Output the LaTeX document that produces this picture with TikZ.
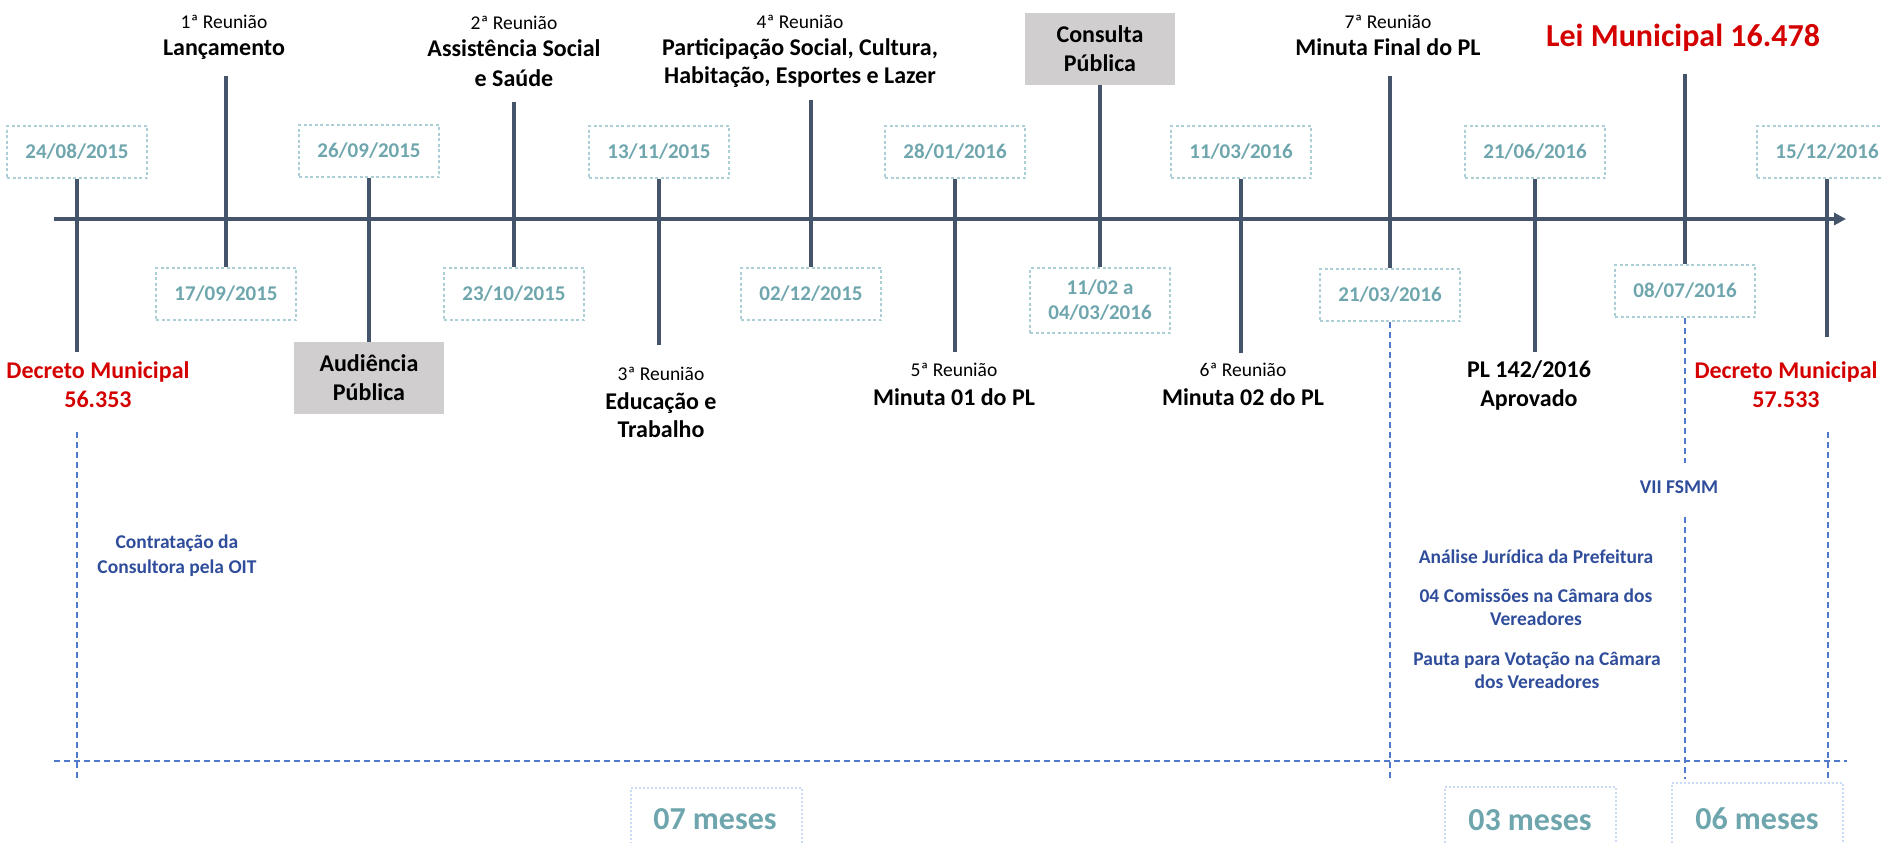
\documentclass[tikz,border=0pt]{standalone}
\usepackage{fontspec}
\setmainfont{Carlito}
\usetikzlibrary{arrows.meta}
\definecolor{axisc}{RGB}{68,84,106}
\definecolor{datec}{RGB}{111,166,174}
\definecolor{boxc}{RGB}{172,206,213}
\definecolor{redc}{RGB}{212,0,0}
\definecolor{bluet}{RGB}{47,77,155}
\definecolor{guidec}{RGB}{80,120,205}
\definecolor{grayc}{RGB}{208,206,206}
\definecolor{monc}{RGB}{200,218,245}
\begin{document}
\begin{tikzpicture}[x=1pt,y=-1pt,
  tick/.style={draw=axisc, line width=3.5pt},
  datebox/.style={draw=boxc, dash pattern=on 3pt off 2.5pt, line width=1.4pt,
    minimum width=140pt, minimum height=52pt, inner sep=0pt, text=datec, align=center,
    font=\bfseries\fontsize{21}{25}\selectfont},
  small/.style={anchor=base, inner sep=0pt, font=\fontsize{19.5}{23}\selectfont},
  big/.style={anchor=base, inner sep=0pt, font=\bfseries\fontsize{24}{29}\selectfont},
  redlbl/.style={anchor=base, inner sep=0pt, text=redc, font=\bfseries\fontsize{24}{29}\selectfont},
  bluelbl/.style={anchor=base, inner sep=0pt, text=bluet, font=\bfseries\fontsize{19.5}{23}\selectfont},
  graybox/.style={fill=grayc, minimum width=150pt, minimum height=72pt, inner sep=0pt, align=center,
    font=\bfseries\fontsize{24}{29}\selectfont},
  guide/.style={draw=guidec, line width=1.5pt, dash pattern=on 6pt off 4pt},
  monthbox/.style={draw=monc, line width=1.2pt, dash pattern=on 2pt off 2pt,
    minimum width=171pt, minimum height=100pt, inner sep=0pt},
  monthlbl/.style={anchor=base, inner sep=0pt, text=datec, font=\bfseries\fontsize{32}{38}\selectfont}
]
\useasboundingbox (0,0) rectangle (1883,843);

% axis
\coordinate (axs) at (54,219);
\coordinate (axe) at (1846,219);
\draw[tick, -{Triangle[length=12pt,width=12pt]}] (axs) -- (axe);

% date boxes
\node[datebox] (d1) at (77,152) {24/08/2015};
\node[datebox] (d2) at (226,294) {17/09/2015};
\node[datebox] (d3) at (369,151) {26/09/2015};
\node[datebox] (d4) at (514,294) {23/10/2015};
\node[datebox] (d5) at (659,152) {13/11/2015};
\node[datebox] (d6) at (811,294) {02/12/2015};
\node[datebox] (d7) at (955,152) {28/01/2016};
\node[datebox, minimum height=65pt] (d8) at (1100,300.5) {11/02 a\\04/03/2016};
\node[datebox] (d9) at (1241,152) {11/03/2016};
\node[datebox] (d10) at (1390,295) {21/03/2016};
\node[datebox] (d11) at (1535,152) {21/06/2016};
\node[datebox] (d12) at (1685,291) {08/07/2016};
\node[datebox] (d13) at (1827,152) {15/12/2016};

% gray boxes
\node[graybox] (aud) at (369,378) {Audiência\\Pública};
\node[graybox] (cons) at (1100,49) {Consulta\\Pública};

% tick ends
\coordinate (e1) at (77,352);
\coordinate (e2) at (226,76);
\coordinate (e4) at (514,102);
\coordinate (e5) at (659,345);
\coordinate (e6) at (811,100);
\coordinate (e7) at (955,352);
\coordinate (e9) at (1241,353);
\coordinate (e10) at (1390,76);
\coordinate (e11) at (1535,352);
\coordinate (e12) at (1685,74);
\coordinate (e13) at (1827,337);

\draw[tick] (d1.south) -- (e1);
\draw[tick] (e2) -- (d2.north);
\draw[tick] (d3.south) -- (aud.north);
\draw[tick] (e4) -- (d4.north);
\draw[tick] (d5.south) -- (e5);
\draw[tick] (e6) -- (d6.north);
\draw[tick] (d7.south) -- (e7);
\draw[tick] (cons.south) -- (d8.north);
\draw[tick] (d9.south) -- (e9);
\draw[tick] (e10) -- (d10.north);
\draw[tick] (d11.south) -- (e11);
\draw[tick] (e12) -- (d12.north);
\draw[tick] (d13.south) -- (e13);

% top labels
\node[small] (r1a) at (224,29) {1ª Reunião};
\node[big] (r1b) at (224,56) {Lançamento};
\node[small] (r2a) at (514,30) {2ª Reunião};
\node[big] (r2b) at (514,57) {Assistência Social};
\node[big] (r2c) at (514,86) {e Saúde};
\node[small] (r4a) at (800,29) {4ª Reunião};
\node[big] (r4b) at (800,56) {Participação Social, Cultura,};
\node[big] (r4c) at (800,84) {Habitação, Esportes e Lazer};
\node[small] (r7a) at (1388,29) {7ª Reunião};
\node[big] (r7b) at (1388,56) {Minuta Final do PL};
\node[anchor=base, inner sep=0pt, text=redc, font=\bfseries\fontsize{32}{38}\selectfont] (lei) at (1683,47) {Lei Municipal 16.478};

% bottom labels
\node[redlbl] (dec1a) at (98,378) {Decreto Municipal};
\node[redlbl] (dec1b) at (98,407) {56.353};
\node[small] (r3a) at (661,380) {3ª Reunião};
\node[big] (r3b) at (661,409) {Educação e};
\node[big] (r3c) at (661,437) {Trabalho};
\node[small] (r5a) at (954,376) {5ª Reunião};
\node[big] (r5b) at (954,405) {Minuta 01 do PL};
\node[small] (r6a) at (1243,376) {6ª Reunião};
\node[big] (r6b) at (1243,405) {Minuta 02 do PL};
\node[big] (pla) at (1529,377) {PL 142/2016};
\node[big] (plb) at (1529,406) {Aprovado};
\node[redlbl] (dec2a) at (1786,378) {Decreto Municipal};
\node[redlbl] (dec2b) at (1786,407) {57.533};

% blue guides
\coordinate (g1a) at (77,432);
\coordinate (g1b) at (77,778);
\coordinate (g2b) at (1390,780);
\coordinate (g3a) at (1685,463);
\coordinate (g3b) at (1685,517);
\coordinate (g3c) at (1685,779);
\coordinate (g4a) at (1828,432);
\coordinate (g4b) at (1828,778);
\coordinate (hl) at (54,761);
\coordinate (hr) at (1847,761);
\draw[guide] (g1a) -- (g1b);
\draw[guide] (d10.south) -- (g2b);
\draw[guide] (d12.south) -- (g3a);
\draw[guide] (g3b) -- (g3c);
\draw[guide] (g4a) -- (g4b);
\draw[guide] (hl) -- (hr);

% blue texts
\node[bluelbl] (c1) at (177,548) {Contratação da};
\node[bluelbl] (c2) at (177,573) {Consultora pela OIT};
\node[bluelbl] (vii) at (1679,493) {VII FSMM};
\node[bluelbl] (an) at (1536,563) {Análise Jurídica da Prefeitura};
\node[bluelbl] (co1) at (1536,602) {04 Comissões na Câmara dos};
\node[bluelbl] (co2) at (1536,625) {Vereadores};
\node[bluelbl] (pa1) at (1537,665) {Pauta para Votação na Câmara};
\node[bluelbl] (pa2) at (1537,688) {dos Vereadores};

% month boxes
\node[monthbox] (m1) at (716.5,838) {};
\node[monthbox] (m2) at (1530.5,837) {};
\node[monthbox] (m3) at (1757.5,833) {};
\node[monthlbl] (m1t) at (715,829) {07 meses};
\node[monthlbl] (m2t) at (1530,830) {03 meses};
\node[monthlbl] (m3t) at (1757,829) {06 meses};
\end{tikzpicture}
\end{document}
